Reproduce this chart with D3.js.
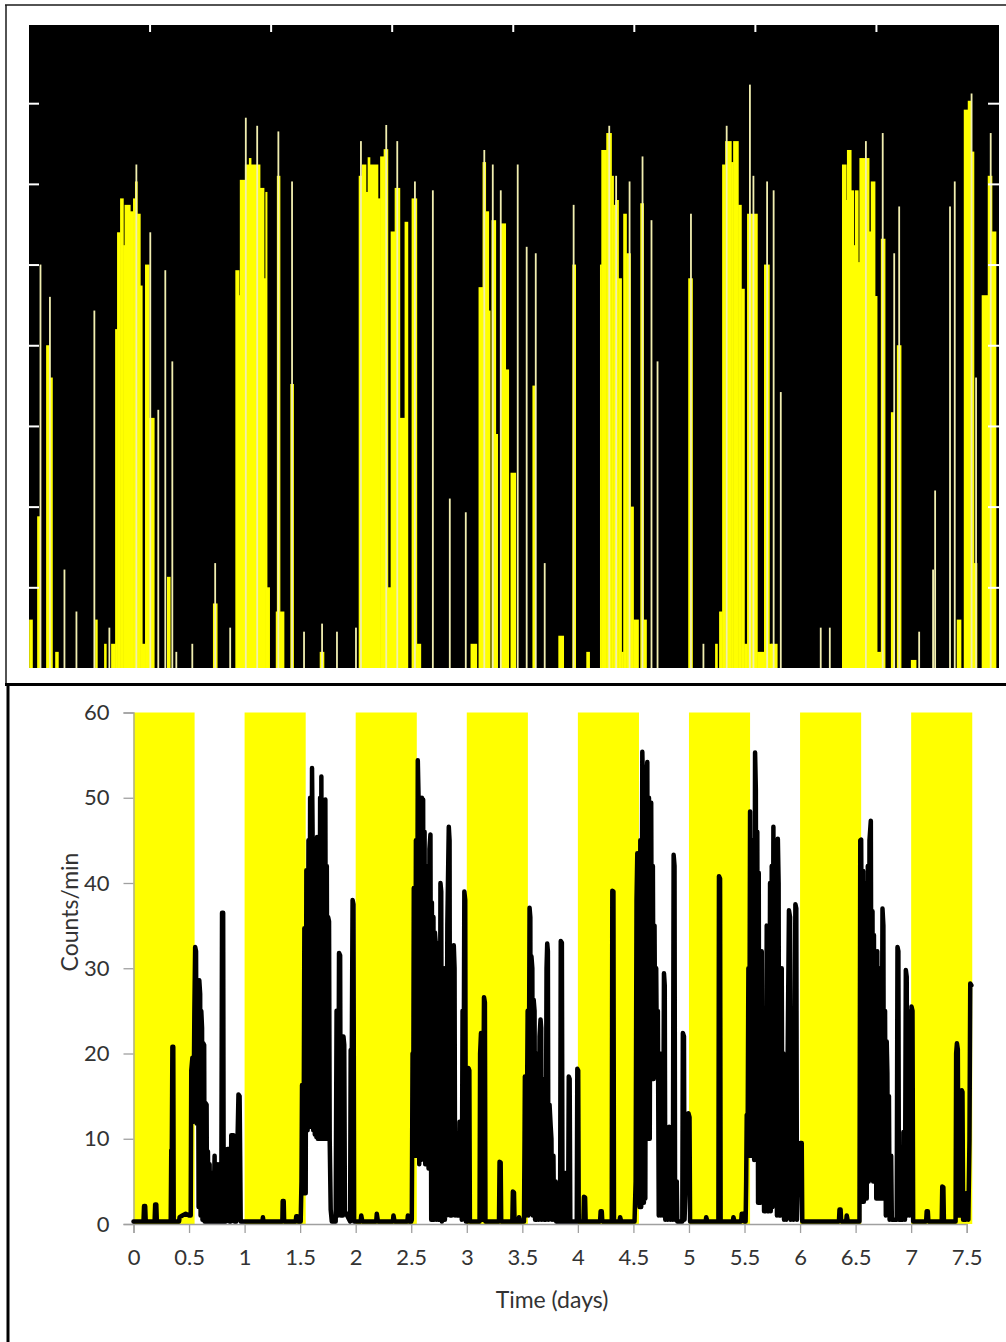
<!DOCTYPE html>
<html>
<head>
<meta charset="utf-8">
<script src="https://cdn.jsdelivr.net/npm/d3@7"></script>
<style>
  body { margin: 0; background: #fff; }
  svg { display: block; font-family: Lato, "Open Sans", sans-serif; }
</style>
</head>
<body>
<svg id="chart" width="1006" height="1342"></svg>
<script>
// ---- top panel (actogram-like bars), x in days, level in axis units
const topTicks = [1, 2, 3, 4, 5, 6, 7];

// [start, end, level]
const topBlocks = [
  [0.008,0.033,0.6],[0.074,0.099,1.88],[0.148,0.173,4.0],[0.173,0.198,3.6],[0.223,0.247,0.2],[0.553,0.569,0.6],[0.627,0.643,0.3],[0.685,0.718,0.3],
  [0.718,0.734,4.2],[0.734,0.759,5.4],[0.759,0.784,5.82],[0.784,0.796,5.24],[0.796,0.841,5.74],[0.841,0.866,5.66],[0.866,0.882,5.82],[0.882,0.899,6.03],[0.899,0.924,5.63],[0.924,0.940,4.74],[0.940,0.965,0.3],[0.965,0.998,5.0],[0.998,1.039,3.1],[1.146,1.171,1.13],[1.526,1.559,0.8],
  [1.711,1.740,4.93],[1.740,1.748,4.62],[1.748,1.790,6.05],[1.790,1.823,6.24],[1.823,1.839,6.32],[1.839,1.913,6.24],[1.913,1.946,5.95],[1.946,1.959,4.83],[1.959,1.971,5.9],[1.971,1.992,1.0],[2.045,2.111,0.7],[2.054,2.078,6.1],[2.165,2.190,3.52],[2.408,2.441,0.2],
  [2.730,2.755,6.1],[2.755,2.788,6.24],[2.788,2.804,5.9],[2.804,2.821,6.33],[2.821,2.887,6.24],[2.887,2.907,5.82],[2.907,2.936,6.34],[2.936,2.969,6.43],[2.969,2.994,1.0],[2.994,3.027,5.41],[3.027,3.068,5.95],[3.068,3.109,3.1],[3.109,3.134,5.53],[3.167,3.208,5.82],[3.208,3.241,0.3],[3.654,3.703,0.3],
  [3.720,3.753,4.72],[3.753,3.777,6.27],[3.777,3.802,5.66],[3.802,3.814,4.43],[3.827,3.860,5.55],[3.860,3.876,2.9],[3.901,3.942,5.51],[3.942,3.967,3.7],[3.984,4.025,2.42],[4.165,4.190,3.5],[4.379,4.421,0.4],[4.495,4.520,5.0],[4.610,4.635,0.2],
  [4.723,4.734,5.0],[4.734,4.775,6.42],[4.775,4.816,6.63],[4.816,4.833,6.1],[4.833,4.849,5.74],[4.849,4.874,5.8],[4.874,4.899,4.83],[4.899,4.915,0.2],[4.915,4.940,5.63],[4.940,4.973,5.14],[4.973,4.998,2.0],[4.998,5.039,0.6],[5.056,5.081,5.76],[5.081,5.105,0.6],[5.452,5.485,4.83],[5.674,5.691,0.3],[5.707,5.732,0.7],
  [5.732,5.757,6.24],[5.757,5.806,6.53],[5.806,5.823,6.27],[5.823,5.864,6.53],[5.864,5.889,5.74],[5.889,5.914,4.7],[5.914,5.938,0.3],[5.938,6.021,5.63],[6.021,6.078,0.2],[6.078,6.120,5.0],[6.120,6.144,0.3],[6.136,6.185,0.3],
  [6.722,6.755,6.24],[6.755,6.763,5.8],[6.763,6.796,6.42],[6.796,6.817,5.92],[6.817,6.829,5.24],[6.829,6.854,5.92],[6.854,6.866,5.03],[6.866,6.944,6.32],[6.944,6.960,5.41],[6.960,6.993,6.03],[6.993,7.010,4.61],[7.010,7.043,0.2],[7.043,7.076,5.32],[7.126,7.151,3.17],[7.175,7.208,4.0],[7.291,7.332,0.1],[7.670,7.703,0.6],
  [7.728,7.761,6.92],[7.761,7.786,7.03],[7.786,7.810,6.4],[7.810,7.835,1.3],[7.876,7.926,4.62],[7.926,7.959,6.1],[7.959,7.992,5.41]
];

// [time, level] single thin bins
const topSpikes = [
  [0.099,5.0],[0.177,4.6],[0.297,1.22],[0.396,0.7],[0.544,4.43],[0.668,0.5],
  [0.891,6.24],[1.006,5.4],[1.072,3.2],[1.130,4.93],[1.188,3.8],[1.221,0.2],[1.353,0.3],[1.542,1.3],[1.666,0.5],
  [1.795,6.82],[1.889,6.72],[2.064,6.65],[2.177,6.03],[2.276,0.45],[2.425,0.55],[2.548,0.45],[2.705,0.5],
  [2.746,6.53],[2.955,6.73],[3.046,6.53],[3.192,6.03],[3.340,5.92],[3.480,2.1],[3.612,1.93],
  [3.765,6.42],[3.835,6.24],[3.901,5.92],[4.041,6.24],[4.115,5.22],[4.190,5.14],[4.264,1.3],[4.503,5.74],
  [4.797,6.72],[4.854,6.1],[4.965,6.03],[5.072,6.34],[5.146,5.55],[5.196,3.8],[5.472,5.63],[5.575,0.3],
  [5.767,6.72],[5.959,7.23],[5.988,6.1],[6.101,6.03],[6.155,5.92],[6.214,3.42],[6.544,0.5],[6.619,0.5],
  [6.917,6.53],[7.056,6.63],[7.151,5.14],[7.192,5.72],[7.357,0.45],[7.472,1.22],[7.489,2.2],[7.612,5.72],[7.651,6.03],
  [7.790,7.12],[7.827,3.6],[7.948,6.63]
];

// ---- bottom panel
const lightsOn = [0, 1, 2, 3, 4, 5, 6, 7];
const lightHours = 0.55; // fraction of a day with light
const xTicks = [0, 0.5, 1, 1.5, 2, 2.5, 3, 3.5, 4, 4.5, 5, 5.5, 6, 6.5, 7, 7.5];
const yTicks = [0, 10, 20, 30, 40, 50, 60];

// [day, counts/min]
const activity = [
  [0,0.3],[0.09,0.3],[0.095,2.1],[0.105,2.1],[0.11,0.3],[0.19,0.3],[0.195,2.3],[0.205,2.3],[0.21,0.3],[0.335,0.3],[0.34,8.7],[0.345,8.7],[0.35,20.8],[0.358,20.8],[0.362,0.3],
  [0.41,0.3],[0.415,0.8],[0.44,1.0],[0.47,1.2],[0.5,1.0],[0.515,1.0],[0.52,18],[0.53,19.5],[0.54,12],[0.548,25],[0.555,32.5],[0.563,32],[0.568,11.8],[0.575,27.5],[0.582,24],[0.586,2],
  [0.592,28.6],[0.6,27],[0.604,1],[0.61,25],[0.617,23],[0.621,0.5],[0.628,21.2],[0.636,21],[0.64,0.3],[0.648,14.2],[0.658,14],[0.662,0.3],[0.67,8.5],[0.676,0.3],[0.685,7],[0.69,0.3],
  [0.7,6],[0.705,0.3],[0.715,5],[0.72,0.3],[0.73,8],[0.735,0.3],[0.745,6],[0.75,0.3],[0.76,7],[0.765,0.3],[0.775,5],[0.78,0.3],[0.79,0.3],[0.797,36.5],[0.807,36.5],[0.812,0.3],
  [0.825,6],[0.83,0.3],[0.845,8.8],[0.86,8.8],[0.865,0.3],[0.875,0.3],[0.88,10.4],[0.9,10.4],[0.905,5.5],[0.91,0.3],[0.92,6],[0.925,0.3],[0.935,9],[0.945,15.2],[0.955,15],[0.96,8],[0.965,0.3],
  [1.16,0.3],[1.165,0.8],[1.17,0.3],[1.34,0.3],[1.343,2.7],[1.352,2.7],[1.356,0.3],[1.46,0.3],[1.465,0.9],[1.475,0.9],[1.48,0.3],[1.505,0.3],
  [1.512,5],[1.517,16.3],[1.525,15],[1.53,3.6],[1.538,34.7],[1.545,30],[1.55,3.6],[1.556,41.5],[1.562,38],[1.567,11],[1.575,45],[1.582,12],[1.59,50],[1.598,11.4],[1.607,53.5],[1.612,46],
  [1.618,11],[1.625,45],[1.632,10.5],[1.64,42],[1.646,10.2],[1.652,45.4],[1.658,10],[1.665,44],[1.672,10],[1.68,50],[1.686,10],[1.691,52.5],[1.698,10],[1.705,48],[1.711,10],[1.718,47],
  [1.722,10],[1.727,49.8],[1.733,10],[1.74,42],[1.746,10],[1.752,36],[1.76,35.5],[1.766,10],[1.775,1.7],[1.785,0.3],[1.82,0.3],[1.828,25],[1.836,24],[1.842,1],[1.85,31.8],[1.86,31.5],[1.866,1],
  [1.885,1],[1.89,22],[1.897,21],[1.903,1.5],[1.95,0.3],[1.955,20.4],[1.965,20],[1.972,38],[1.98,37.5],[1.986,0.3],[2.045,0.3],[2.05,1.0],[2.06,0.3],[2.185,0.3],[2.19,1.2],[2.2,0.3],
  [2.335,0.3],[2.34,1.0],[2.35,0.3],[2.465,0.3],[2.47,1.0],[2.48,0.3],[2.5,0.3],
  [2.505,0.5],[2.512,20],[2.518,10],[2.523,39.4],[2.53,30],[2.535,8],[2.542,45],[2.55,8],[2.559,54.4],[2.566,50],[2.572,7],[2.58,48],[2.588,7.5],[2.596,50],[2.602,8],[2.607,49.8],[2.614,8],
  [2.62,46],[2.626,7],[2.632,42],[2.637,40.4],[2.643,7],[2.65,42],[2.656,6.5],[2.664,44],[2.673,45.7],[2.68,0.5],[2.686,37.7],[2.692,0.5],[2.7,36],[2.706,0.5],[2.713,34.2],[2.72,33],[2.726,0.5],
  [2.735,30],[2.742,0.5],[2.75,33],[2.756,0.5],[2.763,40],[2.77,39],[2.776,0.3],[2.785,20],[2.79,0.5],[2.797,30],[2.803,0.5],[2.81,25],[2.816,1],[2.825,35],[2.838,46.6],[2.845,45],[2.85,1],
  [2.858,30],[2.864,1],[2.872,25],[2.883,32.7],[2.89,30],[2.895,1],[2.905,10.7],[2.912,1],[2.92,9],[2.926,1],[2.935,12],[2.94,1],[2.95,10],[2.955,0.5],[2.962,25],[2.968,1],[2.978,39],[2.986,38],[2.992,0.3],
  [3.01,0.3],[3.015,18.3],[3.023,18],[3.028,0.3],[3.115,0.3],[3.12,20],[3.128,22.4],[3.136,22],[3.142,0.5],[3.155,26.6],[3.163,26],[3.168,0.3],[3.29,0.3],[3.295,7.3],[3.305,7.2],[3.31,0.3],
  [3.41,0.3],[3.415,3.8],[3.425,3.7],[3.43,0.3],[3.465,0.3],[3.47,0.8],[3.48,0.3],[3.515,0.3],
  [3.52,10],[3.523,17.3],[3.53,17],[3.535,1],[3.548,25],[3.555,1],[3.565,37.1],[3.572,36],[3.576,1.2],[3.582,31.4],[3.59,30],[3.595,1],[3.602,26.3],[3.61,25],[3.615,0.5],[3.625,15],[3.63,0.5],
  [3.64,20],[3.646,0.5],[3.655,22],[3.664,24],[3.67,23],[3.675,0.5],[3.69,17],[3.696,0.5],[3.705,12],[3.71,0.5],[3.718,30],[3.724,32.9],[3.73,32],[3.735,0.5],[3.745,14],[3.755,11.5],[3.762,10],
  [3.768,0.5],[3.78,8],[3.785,0.5],[3.8,5],[3.805,0.3],[3.84,0.3],[3.846,33.2],[3.856,33],[3.862,0.3],[3.875,0.3],[3.88,6],[3.885,0.3],[3.912,0.3],[3.918,17.3],[3.926,17],[3.932,0.3],
  [3.99,0.3],[3.995,18.2],[4.003,18],[4.008,0.3],[4.05,0.3],[4.055,3.2],[4.065,3.1],[4.07,0.3],[4.2,0.3],[4.205,1.5],[4.215,1.5],[4.22,0.3],[4.305,0.3],[4.31,39.1],[4.32,39],[4.325,0.3],
  [4.375,0.3],[4.38,0.8],[4.39,0.3],[4.51,0.3],
  [4.52,5],[4.528,38],[4.535,43.5],[4.54,20],[4.548,40],[4.555,2],[4.562,45],[4.57,2],[4.58,55.4],[4.588,50],[4.594,2.5],[4.6,48],[4.607,3],[4.615,52],[4.625,54.2],[4.632,10],[4.64,50],
  [4.647,10],[4.655,48],[4.66,49.4],[4.667,17],[4.675,42],[4.682,17],[4.69,35],[4.697,17.9],[4.705,30],[4.712,17.3],[4.72,25],[4.728,1],[4.74,20],[4.747,1],[4.76,15],[4.766,1],[4.775,29.4],
  [4.782,28],[4.787,0.5],[4.8,8],[4.806,0.5],[4.822,11.4],[4.83,11],[4.836,0.5],[4.848,10],[4.855,0.5],[4.862,43.3],[4.87,42],[4.875,0.5],[4.89,5],[4.895,0.3],[4.94,0.3],[4.945,22.4],[4.955,22],
  [4.96,0.5],[4.995,13],[5.005,12.5],[5.01,0.3],[5.15,0.3],[5.155,0.8],[5.165,0.3],[5.265,0.3],[5.27,40.8],[5.28,40.5],[5.285,0.3],[5.395,0.3],[5.4,0.8],[5.41,0.3],[5.47,0.3],[5.475,1.2],[5.49,1.2],[5.5,0.3],
  [5.51,0.3],[5.515,5],[5.52,12.8],[5.528,10],[5.535,30],[5.542,8],[5.55,48.4],[5.557,20],[5.565,40],[5.572,8],[5.58,45],[5.587,7.5],[5.595,55.3],[5.602,50.9],[5.608,7.5],[5.615,46],[5.622,2.5],
  [5.628,41.2],[5.634,2.5],[5.64,26],[5.646,2.5],[5.655,32],[5.662,2.5],[5.67,25],[5.676,1.5],[5.685,20],[5.69,1.5],[5.7,35],[5.706,1.5],[5.715,28],[5.72,1.5],[5.73,40],[5.736,1.5],[5.745,42],
  [5.752,2],[5.76,46.6],[5.766,10],[5.772,40],[5.778,5],[5.785,38],[5.792,1],[5.8,45.2],[5.807,40],[5.812,1],[5.82,25],[5.826,1],[5.835,30],[5.842,1],[5.85,20],[5.856,0.5],[5.87,10],[5.875,0.5],
  [5.9,36.8],[5.91,36],[5.915,0.5],[5.935,10],[5.94,0.5],[5.958,37.5],[5.966,37],[5.972,0.5],[5.99,9],[6.0,9.5],[6.015,9.5],[6.02,0.3],[6.35,0.3],[6.355,1.7],[6.365,1.7],[6.37,0.3],
  [6.415,0.3],[6.42,1.0],[6.43,0.3],[6.535,0.3],
  [6.538,20],[6.542,45],[6.55,45.1],[6.556,30],[6.562,2.6],[6.568,41.4],[6.574,2.6],[6.58,40],[6.586,3],[6.592,38],[6.6,3],[6.61,42],[6.618,5],[6.625,45],[6.637,47.3],[6.644,10],[6.652,36.7],
  [6.658,5],[6.665,33.9],[6.672,5],[6.68,30],[6.686,3],[6.695,32],[6.7,3],[6.71,28],[6.717,3],[6.725,30],[6.732,3],[6.742,37],[6.75,35],[6.755,3],[6.765,25],[6.772,1],[6.78,21.4],[6.786,17.7],
  [6.792,1],[6.8,15],[6.806,0.5],[6.82,8],[6.826,0.5],[6.87,0.5],[6.877,32.5],[6.885,32],[6.89,0.5],[6.925,0.5],[6.93,10.8],[6.938,10],[6.944,0.5],[6.952,29.8],[6.96,29],[6.966,1],[6.972,25],
  [6.98,24],[6.985,1],[6.995,5],[7.003,25.5],[7.012,25],[7.018,0.3],[7.135,0.3],[7.14,1.5],[7.15,1.5],[7.155,0.3],[7.275,0.3],[7.28,4.4],[7.29,4.3],[7.295,0.3],[7.4,0.3],[7.405,20],[7.412,21.2],
  [7.42,20.5],[7.426,1],[7.45,1],[7.455,15.7],[7.462,15.5],[7.468,0.5],[7.49,0.5],[7.495,3.6],[7.505,3.6],[7.515,0.5],[7.525,10],[7.532,28.2],[7.542,28]
];

const svg = d3.select("#chart");
svg.append("rect").attr("width", 1006).attr("height", 1342).attr("fill", "#fff");

// ---------- top panel ----------
const tx = d3.scaleLinear().domain([0, 8]).range([28.5, 997]);
const ty = d3.scaleLinear().domain([0, 8]).range([668, 22.5]);

const topPanel = svg.append("g").attr("id", "topPanel");
topPanel.append("rect")
  .attr("x", 29).attr("y", 25)
  .attr("width", 999 - 29).attr("height", 668 - 25)
  .attr("fill", "#000");

// small overlap so neighbouring bins don't leave antialias seams
topPanel.selectAll("rect.block")
  .data(topBlocks)
  .enter()
  .append("rect")
    .attr("class", "block")
    .attr("x", d => tx(d[0]) - 0.3)
    .attr("y", d => ty(d[2]))
    .attr("width", d => Math.max(1, tx(d[1]) - tx(d[0])) + 0.6)
    .attr("height", d => ty(0) - ty(d[2]))
    .attr("fill", "#ffff00");

topPanel.selectAll("rect.spike")
  .data(topSpikes)
  .enter()
  .append("rect")
    .attr("class", "spike")
    .attr("x", d => tx(d[0]) - 0.9)
    .attr("y", d => ty(d[1]))
    .attr("width", 1.8)
    .attr("height", d => ty(0) - ty(d[1]))
    .attr("fill", "#f1eeb0");

// white inner ticks: top, left, right
topPanel.append("g")
  .attr("transform", `translate(0, 25)`)
  .call(d3.axisBottom(tx).tickValues(topTicks).tickSize(7).tickFormat(""))
  .call(g => g.select(".domain").remove())
  .call(g => g.selectAll("line").attr("stroke", "#fff").attr("stroke-width", 2));

topPanel.append("g")
  .attr("transform", `translate(29, 0)`)
  .call(d3.axisRight(ty).tickValues(topTicks).tickSize(10).tickFormat(""))
  .call(g => g.select(".domain").remove())
  .call(g => g.selectAll("line").attr("stroke", "#fff").attr("stroke-width", 2));

topPanel.append("g")
  .attr("transform", `translate(999, 0)`)
  .call(d3.axisLeft(ty).tickValues(topTicks).tickSize(11).tickFormat(""))
  .call(g => g.select(".domain").remove())
  .call(g => g.selectAll("line").attr("stroke", "#fff").attr("stroke-width", 2));

// frames
svg.append("line").attr("x1", 5).attr("x2", 1006).attr("y1", 5).attr("y2", 5)
  .attr("stroke", "#1a1a1a").attr("stroke-width", 1.5);
svg.append("line").attr("x1", 6).attr("x2", 6).attr("y1", 5).attr("y2", 683)
  .attr("stroke", "#1a1a1a").attr("stroke-width", 1.5);
svg.append("line").attr("x1", 5).attr("x2", 1006).attr("y1", 684.5).attr("y2", 684.5)
  .attr("stroke", "#000").attr("stroke-width", 3);
svg.append("line").attr("x1", 8).attr("x2", 8).attr("y1", 684).attr("y2", 1342)
  .attr("stroke", "#000").attr("stroke-width", 3);

// ---------- bottom panel ----------
const x = d3.scaleLinear().domain([0, 7.5]).range([133.5, 966.7]);
const y = d3.scaleLinear().domain([0, 60]).range([1224, 712.5]);

const bottomPanel = svg.append("g").attr("id", "bottomPanel");

bottomPanel.selectAll("rect.light")
  .data(lightsOn)
  .enter()
  .append("rect")
    .attr("class", "light")
    .attr("x", d => x(d))
    .attr("y", y(60))
    .attr("width", d => x(d + lightHours) - x(d))
    .attr("height", y(0) - y(60))
    .attr("fill", "#ffff00");

const yAxis = bottomPanel.append("g")
  .attr("transform", `translate(${x(0)}, 0)`)
  .call(d3.axisLeft(y).tickValues(yTicks).tickSize(10).tickPadding(14).tickFormat(d => d));
yAxis.select(".domain").attr("stroke", "#a0a0a0").attr("stroke-width", 1.3);
yAxis.selectAll("line").attr("stroke", "#a0a0a0").attr("stroke-width", 1.3);
yAxis.selectAll("text")
  .style("font-size", "22px")
  .style("font-family", "Lato, 'Open Sans', sans-serif")
  .attr("fill", "#333");

const xAxis = bottomPanel.append("g")
  .attr("transform", `translate(0, ${y(0)})`)
  .call(d3.axisBottom(x).tickValues(xTicks).tickSize(9).tickPadding(16).tickFormat(d => d));
xAxis.select(".domain").attr("stroke", "#a0a0a0").attr("stroke-width", 1.3);
xAxis.selectAll("line").attr("stroke", "#a0a0a0").attr("stroke-width", 1.3);
xAxis.selectAll("text")
  .style("font-size", "22px")
  .style("font-family", "Lato, 'Open Sans', sans-serif")
  .attr("fill", "#333");

const line = d3.line()
  .x(d => x(d[0]))
  .y(d => y(d[1]));

bottomPanel.append("path")
  .datum(activity)
  .attr("d", line)
  .attr("fill", "none")
  .attr("stroke", "#000")
  .attr("stroke-width", 4.5)
  .attr("stroke-linejoin", "round")
  .attr("stroke-linecap", "round");

bottomPanel.append("text")
  .attr("x", 552)
  .attr("y", 1308)
  .attr("text-anchor", "middle")
  .style("font-size", "23px")
  .attr("fill", "#333")
  .text("Time (days)");

bottomPanel.append("text")
  .attr("transform", `translate(78, 912) rotate(-90)`)
  .attr("text-anchor", "middle")
  .style("font-size", "23px")
  .attr("fill", "#333")
  .text("Counts/min");
</script>
</body>
</html>
